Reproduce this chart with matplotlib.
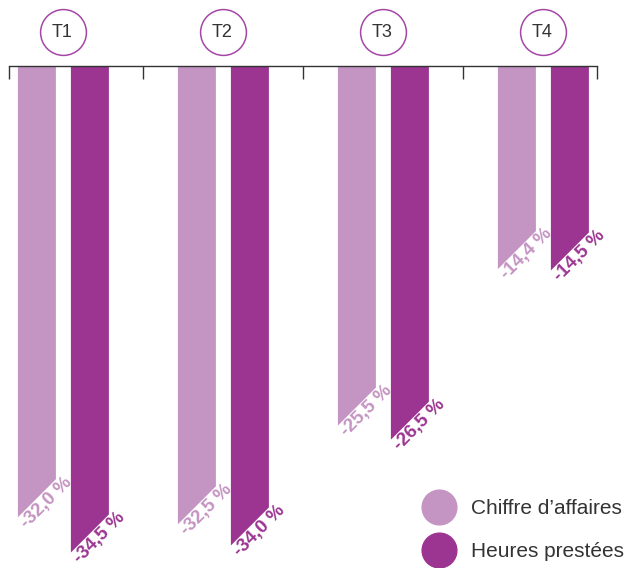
import matplotlib
matplotlib.use("Agg")
import matplotlib.pyplot as plt
from matplotlib.lines import Line2D
import numpy as np

quarters = ["T1", "T2", "T3", "T4"]
series_names = ["Chiffre d\u2019affaires", "Heures prest\u00e9es"]
chiffre_affaires = [-32.0, -32.5, -25.5, -14.4]
heures_prestees = [-34.5, -34.0, -26.5, -14.5]
value_labels_ca = ["-32,0 %", "-32,5 %", "-25,5 %", "-14,4 %"]
value_labels_hp = ["-34,5 %", "-34,0 %", "-26,5 %", "-14,5 %"]

light = "#c494c2"
dark = "#9b3591"
ring = "#a646a6"
text_gray = "#333333"

plt.rcParams["font.family"] = ["Liberation Sans", "DejaVu Sans"]

W, H = 627, 568
fig = plt.figure(figsize=(W / 100, H / 100), dpi=100)
ax = fig.add_axes([9 / W, 0, 588 / W, (H - 66) / H])

xmin, xmax = -0.34, 3.335
ymin, ymax = -35.6, 0.0
ax.set_xlim(xmin, xmax)
ax.set_ylim(ymin, ymax)

bar_w = 0.2375
offset = 0.1656

# pixel scale, used to cut the bar ends at 45 degrees
px_x = 588 / (xmax - xmin)
px_y = (H - 66) / (ymax - ymin)
slant = bar_w * px_x / px_y

x = np.arange(len(quarters))
for vals, labels, col, dx in [(chiffre_affaires, value_labels_ca, light, -offset),
                              (heures_prestees, value_labels_hp, dark, offset)]:
    for xi, v, lab in zip(x, vals, labels):
        x0 = xi + dx - bar_w / 2
        x1 = xi + dx + bar_w / 2
        ax.fill([x0, x1, x1, x0], [0, 0, v + slant, v], color=col, lw=0, zorder=2)
        ax.text(x0 - 0.004, v - 0.15, lab, rotation=45, rotation_mode="anchor",
                ha="left", va="top", color=col, fontsize=13.5, fontweight="bold",
                zorder=3)

# top axis line with ticks hanging down
for s in ["left", "right", "bottom"]:
    ax.spines[s].set_visible(False)
ax.spines["top"].set_color(text_gray)
ax.spines["top"].set_linewidth(1.0)
ax.spines["top"].set_zorder(4)
ax.xaxis.tick_top()
ax.set_xticks([xmin + 0.002, 0.5, 1.5, 2.5, xmax - 0.002])
ax.set_xticklabels([])
ax.tick_params(axis="x", direction="in", length=9, width=1.0, color=text_gray)
ax.set_yticks([])

# quarter badges
ax.scatter(x, [2.4] * len(x), s=1089, facecolor="white", edgecolor=ring,
           linewidth=1.1, clip_on=False, zorder=5)
for xi, q in zip(x, quarters):
    ax.text(xi - 0.01, 2.4, q, ha="center", va="center", fontsize=13,
            color=text_gray, clip_on=False, zorder=6)

handles = [Line2D([], [], marker="o", ls="", markersize=25, color=c)
           for c in (light, dark)]
fig.legend(handles, series_names, loc="lower right",
           bbox_to_anchor=(639 / W, -8 / H), frameon=False, fontsize=15,
           labelcolor=text_gray, handletextpad=0.85, labelspacing=1.15,
           borderpad=0.2, handlelength=1.4)

fig.savefig("out.png", dpi=100)
